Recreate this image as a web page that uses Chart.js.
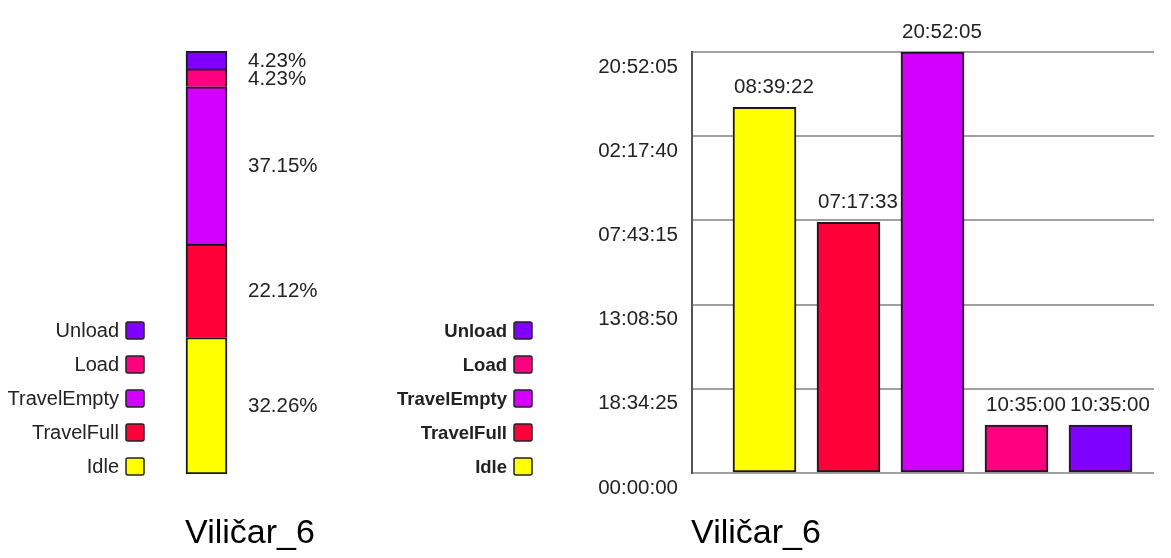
<!DOCTYPE html>
<html>
<head>
<meta charset="utf-8">
<script src="https://cdn.jsdelivr.net/npm/chart.js@4"></script>
<style>
  html, body { margin: 0; padding: 0; background: #fff; }
  #wrap { position: relative; width: 1171px; height: 558px; overflow: hidden; }
  #left { position: absolute; left: 0; top: 0; }
  #right { position: absolute; left: 350px; top: 0; }
</style>
</head>
<body>
<div id="wrap">
  <canvas id="left" width="350" height="558"></canvas>
  <canvas id="right" width="821" height="558"></canvas>
</div>
<script>
// ─── Data ─────────────────────────────────────────────────────────────────────
const vehicle = 'Viličar_6';
const states = ['Idle', 'TravelFull', 'TravelEmpty', 'Load', 'Unload'];
const stateColors = ['#ffff00', '#ff0038', '#d400ff', '#ff0080', '#8000ff'];
// time spent in each state, seconds (labels are shown as hh:mm:ss, hours mod 24)
const durations = [290362, 199053, 334325, 38100, 38100];
const tickStep = 66865;
const tickMax = 334325;

const FONT = "'Liberation Sans', Arial, sans-serif";
const total = durations.reduce((a, b) => a + b, 0);
const percents = durations.map(v => v / total * 100);

function hms(sec) {
  const h = Math.floor(sec / 3600) % 24;
  const m = Math.floor((sec % 3600) / 60);
  const s = Math.round(sec % 60);
  return [h, m, s].map(n => String(n).padStart(2, '0')).join(':');
}

// ─── Legend + caption drawn beside each chart ─────────────────────────────────
function sideLegend(opts) {
  return {
    id: 'sideLegend',
    afterDraw(chart) {
      const ctx = chart.ctx;
      ctx.save();
      ctx.font = opts.font;
      ctx.textAlign = 'right';
      ctx.textBaseline = 'middle';
      states.forEach((name, i) => {
        const y = opts.bottom - i * 34;
        ctx.beginPath();
        ctx.roundRect(opts.boxLeft, y - 8.5, 18, 17, 2);
        ctx.fillStyle = stateColors[i];
        ctx.fill();
        ctx.lineWidth = 1.5;
        ctx.strokeStyle = '#222';
        ctx.stroke();
        ctx.fillStyle = '#222';
        ctx.fillText(name, opts.boxLeft - 7, y + 1);
      });
      ctx.font = '34px ' + FONT;
      ctx.textAlign = 'center';
      ctx.fillStyle = '#000';
      ctx.fillText(vehicle, opts.titleX, 534);
      ctx.restore();
    }
  };
}

// ─── Left: stacked share bar ──────────────────────────────────────────────────
const pctLabels = {
  id: 'pctLabels',
  afterDatasetsDraw(chart) {
    const ctx = chart.ctx;
    ctx.save();
    ctx.font = '20.5px ' + FONT;
    ctx.fillStyle = '#222';
    ctx.textAlign = 'left';
    ctx.textBaseline = 'middle';
    chart.data.datasets.forEach((ds, i) => {
      const el = chart.getDatasetMeta(i).data[0];
      ctx.fillText(ds.data[0].toFixed(2) + '%', el.x + el.width / 2 + 21, (el.y + el.base) / 2 + 1);
    });
    ctx.restore();
  }
};

new Chart(document.getElementById('left'), {
  type: 'bar',
  data: {
    labels: [vehicle],
    datasets: states.map((name, i) => ({
      label: name,
      data: [percents[i]],
      backgroundColor: stateColors[i],
      borderColor: '#1a1a1a',
      borderWidth: i === 0 ? 2 : { top: 2, left: 2, right: 2, bottom: 0 },
      borderSkipped: false,
      barThickness: 41
    }))
  },
  options: {
    responsive: false,
    animation: false,
    layout: { padding: { left: 166, right: 103, top: 51, bottom: 84 } },
    plugins: { legend: { display: false }, tooltip: { enabled: false } },
    scales: {
      x: { stacked: true, display: false },
      y: { stacked: true, display: false, min: 0, max: percents.reduce((a, b) => a + b, 0) }
    }
  },
  plugins: [pctLabels, sideLegend({ font: '20px ' + FONT, boxLeft: 126, bottom: 466.5, titleX: 250 })]
});

// ─── Right: durations per state ───────────────────────────────────────────────
const valueLabels = {
  id: 'valueLabels',
  afterDatasetsDraw(chart) {
    const ctx = chart.ctx;
    ctx.save();
    ctx.font = '20.5px ' + FONT;
    ctx.fillStyle = '#222';
    ctx.textAlign = 'left';
    ctx.textBaseline = 'middle';
    chart.getDatasetMeta(0).data.forEach((el, i) => {
      ctx.fillText(hms(durations[i]), el.x - el.width / 2 + 1, el.y - 20);
    });
    ctx.restore();
  }
};

new Chart(document.getElementById('right'), {
  type: 'bar',
  data: {
    datasets: [{
      data: durations.map((v, i) => ({ x: i, y: v })),
      backgroundColor: stateColors,
      borderColor: '#1a1a1a',
      borderWidth: 2,
      borderSkipped: false,
      barThickness: 63
    }]
  },
  options: {
    responsive: false,
    animation: false,
    layout: { padding: { left: 0, right: 17, top: 52, bottom: 85 } },
    plugins: { legend: { display: false }, tooltip: { enabled: false } },
    scales: {
      x: { type: 'linear', offset: false, min: -0.863, max: 4.637, display: false },
      y: {
        min: 0,
        max: tickMax,
        afterFit(scale) { scale.width = 342; },
        border: { color: '#555', width: 2 },
        grid: { color: '#a0a0a0', lineWidth: 2, drawTicks: false },
        ticks: {
          stepSize: tickStep,
          padding: 14,
          labelOffset: 15,
          color: '#222',
          font: { size: 20.5, family: FONT },
          callback: v => hms(v)
        }
      }
    }
  },
  plugins: [valueLabels, sideLegend({ font: 'bold 18.5px ' + FONT, boxLeft: 164, bottom: 466.5, titleX: 406 })]
});
</script>
</body>
</html>
